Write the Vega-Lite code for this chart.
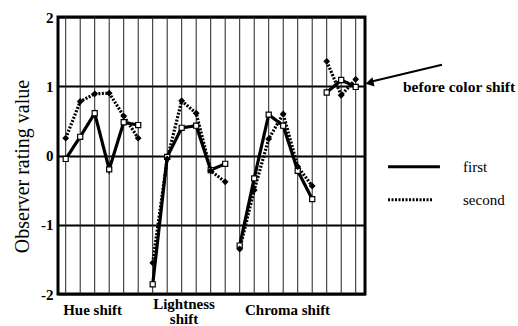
{
  "$schema": "https://vega.github.io/schema/vega-lite/v6.json",
  "width": 307,
  "height": 277,
  "autosize": "none",
  "padding": {"left": 58, "top": 17, "right": 153, "bottom": 32},
  "background": "white",
  "config": {
    "view": {"stroke": "black", "strokeWidth": 3},
    "axis": {"domain": false, "ticks": false}
  },
  "datasets": {
    "ratings": [
      {"grp": "Hue", "series": "first", "pos": 1, "value": -0.05},
      {"grp": "Hue", "series": "first", "pos": 2, "value": 0.27},
      {"grp": "Hue", "series": "first", "pos": 3, "value": 0.61},
      {"grp": "Hue", "series": "first", "pos": 4, "value": -0.2},
      {"grp": "Hue", "series": "first", "pos": 5, "value": 0.48},
      {"grp": "Hue", "series": "first", "pos": 6, "value": 0.44},
      {"grp": "Hue", "series": "second", "pos": 1, "value": 0.25},
      {"grp": "Hue", "series": "second", "pos": 2, "value": 0.78},
      {"grp": "Hue", "series": "second", "pos": 3, "value": 0.89},
      {"grp": "Hue", "series": "second", "pos": 4, "value": 0.9},
      {"grp": "Hue", "series": "second", "pos": 5, "value": 0.57},
      {"grp": "Hue", "series": "second", "pos": 6, "value": 0.25},
      {"grp": "Lightness", "series": "first", "pos": 7, "value": -1.86},
      {"grp": "Lightness", "series": "first", "pos": 8, "value": -0.02},
      {"grp": "Lightness", "series": "first", "pos": 9, "value": 0.4},
      {"grp": "Lightness", "series": "first", "pos": 10, "value": 0.43},
      {"grp": "Lightness", "series": "first", "pos": 11, "value": -0.21},
      {"grp": "Lightness", "series": "first", "pos": 12, "value": -0.12},
      {"grp": "Lightness", "series": "second", "pos": 7, "value": -1.55},
      {"grp": "Lightness", "series": "second", "pos": 8, "value": -0.05},
      {"grp": "Lightness", "series": "second", "pos": 9, "value": 0.79},
      {"grp": "Lightness", "series": "second", "pos": 10, "value": 0.61},
      {"grp": "Lightness", "series": "second", "pos": 11, "value": -0.22},
      {"grp": "Lightness", "series": "second", "pos": 12, "value": -0.38},
      {"grp": "Chroma", "series": "first", "pos": 13, "value": -1.3},
      {"grp": "Chroma", "series": "first", "pos": 14, "value": -0.33},
      {"grp": "Chroma", "series": "first", "pos": 15, "value": 0.59},
      {"grp": "Chroma", "series": "first", "pos": 16, "value": 0.43},
      {"grp": "Chroma", "series": "first", "pos": 17, "value": -0.22},
      {"grp": "Chroma", "series": "first", "pos": 18, "value": -0.63},
      {"grp": "Chroma", "series": "second", "pos": 13, "value": -1.35},
      {"grp": "Chroma", "series": "second", "pos": 14, "value": -0.5},
      {"grp": "Chroma", "series": "second", "pos": 15, "value": 0.24},
      {"grp": "Chroma", "series": "second", "pos": 16, "value": 0.6},
      {"grp": "Chroma", "series": "second", "pos": 17, "value": -0.16},
      {"grp": "Chroma", "series": "second", "pos": 18, "value": -0.44},
      {"grp": "Before", "series": "first", "pos": 19, "value": 0.91},
      {"grp": "Before", "series": "first", "pos": 20, "value": 1.09},
      {"grp": "Before", "series": "first", "pos": 21, "value": 0.99},
      {"grp": "Before", "series": "second", "pos": 19, "value": 1.36},
      {"grp": "Before", "series": "second", "pos": 20, "value": 0.87},
      {"grp": "Before", "series": "second", "pos": 21, "value": 1.1}
    ]
  },
  "layer": [
    {
      "data": {"name": "ratings"},
      "transform": [{"filter": "datum.series == 'first'"}],
      "mark": {"type": "rule", "color": "#222222", "strokeWidth": 1},
      "encoding": {
        "x": {
          "field": "pos",
          "type": "quantitative",
          "scale": {"domain": [0.469, 21.641], "nice": false, "zero": false},
          "axis": null
        }
      }
    },
    {
      "data": {"name": "ratings"},
      "mark": {"type": "line", "color": "black", "strokeWidth": 3.2},
      "encoding": {
        "x": {"field": "pos", "type": "quantitative"},
        "y": {
          "field": "value",
          "type": "quantitative",
          "scale": {"domain": [-2, 2], "nice": false, "zero": false},
          "axis": {
            "values": [-2, -1, 0, 1, 2],
            "grid": true,
            "gridColor": "black",
            "gridWidth": 2.2,
            "labelExpr": "'' + datum.value",
            "labelFont": "Liberation Serif",
            "labelFontWeight": "bold",
            "labelFontSize": 15,
            "labelColor": "black",
            "labelPadding": 5,
            "title": "Observer rating value",
            "titleFont": "Liberation Serif",
            "titleFontWeight": "normal",
            "titleFontSize": 20,
            "titleColor": "black",
            "titlePadding": 8,
            "titleY": 149
          }
        },
        "detail": {"field": "grp"},
        "strokeDash": {
          "field": "series",
          "type": "nominal",
          "scale": {"domain": ["first", "second"], "range": [[1, 0], [2, 1.5]]},
          "legend": null
        }
      }
    },
    {
      "data": {"name": "ratings"},
      "mark": {"type": "point", "filled": true, "size": 26, "strokeWidth": 1.2, "stroke": "black", "opacity": 1},
      "encoding": {
        "x": {"field": "pos", "type": "quantitative"},
        "y": {"field": "value", "type": "quantitative"},
        "shape": {"field": "series", "type": "nominal", "scale": {"domain": ["first", "second"], "range": ["square", "diamond"]}, "legend": null},
        "fill": {"field": "series", "type": "nominal", "scale": {"domain": ["first", "second"], "range": ["white", "black"]}, "legend": null}
      }
    },
    {
      "data": {"values": [{}]},
      "mark": {"type": "rule", "color": "black", "strokeWidth": 2},
      "encoding": {
        "x": {"datum": 26.95},
        "y": {"datum": 1.31},
        "x2": {"datum": 22.1},
        "y2": {"datum": 1.07}
      }
    },
    {
      "data": {"values": [{}]},
      "mark": {"type": "point", "shape": "triangle-left", "filled": true, "color": "black", "size": 90, "angle": 347, "opacity": 1},
      "encoding": {
        "x": {"datum": 21.95},
        "y": {"datum": 1.05}
      }
    },
    {
      "data": {"values": [{}]},
      "mark": {"type": "text", "text": "before color shift", "align": "left", "baseline": "middle", "font": "Liberation Serif", "fontWeight": "bold", "fontSize": 15.5, "fill": "black"},
      "encoding": {
        "x": {"datum": 24.26},
        "y": {"datum": 0.99}
      }
    },
    {
      "data": {"values": [{}]},
      "mark": {"type": "rule", "color": "black", "strokeWidth": 3},
      "encoding": {
        "x": {"datum": 23.23},
        "x2": {"datum": 26.81},
        "y": {"datum": -0.163}
      }
    },
    {
      "data": {"values": [{}]},
      "mark": {"type": "rule", "color": "black", "strokeWidth": 3, "strokeDash": [2, 1.5]},
      "encoding": {
        "x": {"datum": 23.23},
        "x2": {"datum": 26.33},
        "y": {"datum": -0.64}
      }
    },
    {
      "data": {"values": [{}]},
      "mark": {"type": "text", "text": "first", "align": "left", "baseline": "middle", "font": "Liberation Serif", "fontSize": 15, "fill": "black"},
      "encoding": {
        "x": {"datum": 28.4},
        "y": {"datum": -0.163}
      }
    },
    {
      "data": {"values": [{}]},
      "mark": {"type": "text", "text": "second", "align": "left", "baseline": "middle", "font": "Liberation Serif", "fontSize": 15, "fill": "black"},
      "encoding": {
        "x": {"datum": 28.4},
        "y": {"datum": -0.64}
      }
    },
    {
      "data": {"values": [{}]},
      "mark": {"type": "text", "text": "Hue shift", "align": "center", "baseline": "middle", "font": "Liberation Serif", "fontWeight": "bold", "fontSize": 15, "fill": "black"},
      "encoding": {
        "x": {"datum": 2.85},
        "y": {"datum": -2.237}
      }
    },
    {
      "data": {"values": [{}]},
      "mark": {"type": "text", "text": ["Lightness", "shift"], "lineHeight": 15, "align": "center", "baseline": "alphabetic", "font": "Liberation Serif", "fontWeight": "bold", "fontSize": 15, "fill": "black"},
      "encoding": {
        "x": {"datum": 9.16},
        "y": {"datum": -2.212}
      }
    },
    {
      "data": {"values": [{}]},
      "mark": {"type": "text", "text": "Chroma shift", "align": "center", "baseline": "middle", "font": "Liberation Serif", "fontWeight": "bold", "fontSize": 15, "fill": "black"},
      "encoding": {
        "x": {"datum": 16.3},
        "y": {"datum": -2.237}
      }
    }
  ]
}
